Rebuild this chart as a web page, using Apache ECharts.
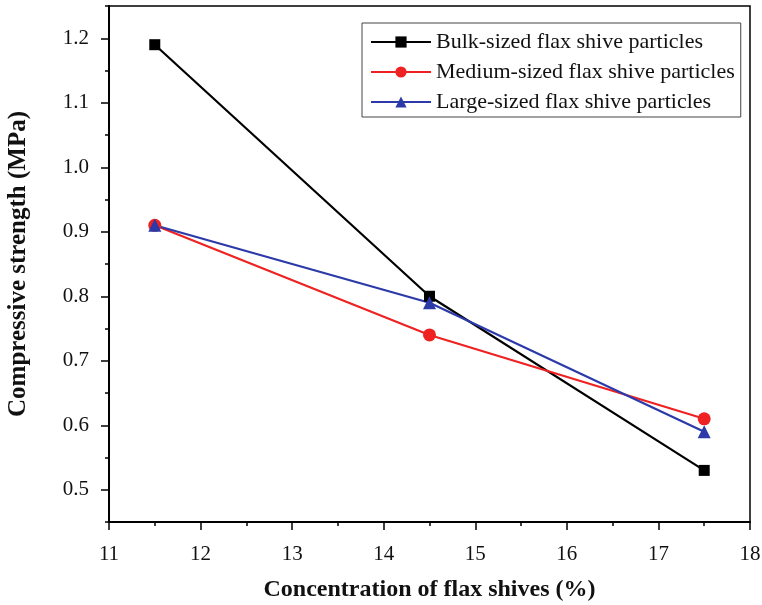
<!DOCTYPE html>
<html>
<head>
<meta charset="utf-8">
<script src="https://cdn.jsdelivr.net/npm/echarts@6/dist/echarts.min.js"></script>
<style>
html,body{margin:0;padding:0;background:#fff;}
#main{width:762px;height:605px;}
</style>
</head>
<body>
<div id="main"></div>
<script>
var concentrations = [11.5, 14.5, 17.5];
var bulkValues = [1.19, 0.80, 0.53];
var mediumValues = [0.91, 0.74, 0.61];
var largeValues = [0.91, 0.79, 0.59];
var seriesNames = ['Bulk-sized flax shive particles', 'Medium-sized flax shive particles', 'Large-sized flax shive particles'];
var yMajorTicks = [0.5, 0.6, 0.7, 0.8, 0.9, 1.0, 1.1, 1.2];
var yMinorTicks = [0.45, 0.55, 0.65, 0.75, 0.85, 0.95, 1.05, 1.15, 1.25];

function pairs(xs, ys) { return xs.map(function (x, i) { return [x, ys[i]]; }); }

var serif = '"Liberation Serif", "Times New Roman", serif';
var chart = echarts.init(document.getElementById('main'), null, {renderer: 'canvas'});
var option = {
  animation: false,
  backgroundColor: '#fff',
  grid: {left: 109, right: 12, top: 6, bottom: 83, show: true, borderColor: '#000', borderWidth: 1.5,
    backgroundColor: 'transparent', containLabel: false, outerBoundsMode: 'none'},
  legend: {
    left: 362, top: 23, orient: 'vertical',
    padding: [8, 6, 4, 8],
    itemWidth: 60, itemHeight: 14, itemGap: 8,
    borderColor: '#444', borderWidth: 1,
    textStyle: {fontFamily: serif, fontSize: 22, lineHeight: 22, color: '#111'},
    data: seriesNames
  },
  xAxis: {
    type: 'value', min: 11, max: 18, interval: 1,
    name: 'Concentration of flax shives (%)', nameLocation: 'middle', nameGap: 56,
    nameTextStyle: {fontFamily: serif, fontSize: 24, fontWeight: 'bold', color: '#111'},
    axisLine: {show: true, lineStyle: {color: '#000', width: 2}},
    axisTick: {show: true, inside: false, length: 8, lineStyle: {color: '#000', width: 1.5}},
    minorTick: {show: true, splitNumber: 2, length: 4, lineStyle: {color: '#000', width: 1.5}},
    axisLabel: {fontFamily: serif, fontSize: 21, color: '#111', margin: 22},
    splitLine: {show: false}
  },
  yAxis: [{
    type: 'value', min: 0.45, max: 1.25,
    name: 'Compressive strength (MPa)', nameLocation: 'middle', nameGap: 78,
    nameTextStyle: {fontFamily: serif, fontSize: 25, fontWeight: 'bold', color: '#111'},
    axisLine: {show: true, lineStyle: {color: '#000', width: 2}},
    axisTick: {show: true, length: 8, customValues: yMajorTicks, lineStyle: {color: '#000', width: 1.5}},
    axisLabel: {fontFamily: serif, fontSize: 21, color: '#111', margin: 20, customValues: yMajorTicks,
      formatter: function (v) { return v.toFixed(1); }},
    splitLine: {show: false}
  }, {
    type: 'value', min: 0.45, max: 1.25, position: 'left',
    axisLine: {show: false},
    axisTick: {show: true, length: 4, customValues: yMinorTicks, lineStyle: {color: '#000', width: 1.5}},
    axisLabel: {show: false},
    splitLine: {show: false}
  }],
  series: [{
    name: seriesNames[0], type: 'line', data: pairs(concentrations, bulkValues),
    symbol: 'rect', symbolSize: 11, color: '#000',
    lineStyle: {width: 2.2, color: '#000'}, itemStyle: {color: '#000'}
  }, {
    name: seriesNames[1], type: 'line', data: pairs(concentrations, mediumValues),
    symbol: 'circle', symbolSize: 13, color: '#ee2222',
    lineStyle: {width: 2.2, color: '#ee2222'}, itemStyle: {color: '#ee2222'}
  }, {
    name: seriesNames[2], type: 'line', data: pairs(concentrations, largeValues),
    symbol: 'triangle', symbolSize: 13, color: '#2b3aa8',
    lineStyle: {width: 2.2, color: '#2b3aa8'}, itemStyle: {color: '#2b3aa8'}
  }]
};
chart.setOption(option);
</script>
</body>
</html>
